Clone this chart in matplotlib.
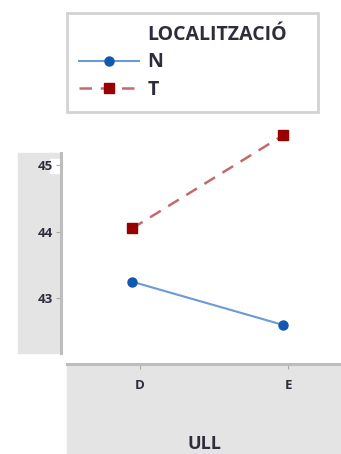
import matplotlib.pyplot as plt
from matplotlib.lines import Line2D
from matplotlib.patches import Rectangle

# dades
ull = ['D', 'E']
loc_n = [43.25, 42.60]
loc_t = [44.05, 45.45]
yticks = [43, 44, 45]

W, H = 341, 454
TXT = '#2d2d3c'
GRIS = '#e4e4e4'
LINIA = '#bdbdbd'
plt.rcParams['font.family'] = ['Open Sans', 'DejaVu Sans']
plt.rcParams['font.weight'] = 'bold'


def fx(x):
    return x / W


def fy(y):
    return 1 - y / H


fig = plt.figure(figsize=(W / 100, H / 100), dpi=100)

# panell gris de l'eix Y i de l'eix X
fig.patches.append(Rectangle((fx(18), fy(353)), fx(61) - fx(18), fy(153) - fy(353),
                             transform=fig.transFigure, color=GRIS, zorder=-2))
fig.patches.append(Rectangle((fx(67), 0), 1 - fx(67), fy(364),
                             transform=fig.transFigure, color=GRIS, zorder=-2))
fig.patches.append(Rectangle((fx(50), fy(173)), fx(61) - fx(50), fy(159) - fy(173),
                             transform=fig.transFigure, color='white', zorder=-1))

# eixos de dades
left, right, top, bottom = 61, 341, 115, 360
ax = fig.add_axes([fx(left), fy(bottom), fx(right) - fx(left), fy(top) - fy(bottom)])
ax.patch.set_alpha(0)
ppu_y, y43 = 66.5, 298.3
ax.set_ylim(43 - (bottom - y43) / ppu_y, 43 + (y43 - top) / ppu_y)
ppu_x, x_d = 151, 132
ax.set_xlim((left - x_d) / ppu_x, (right - x_d) / ppu_x)

xs = range(len(ull))
ln_n, = ax.plot(xs, loc_n, color='#6a9bd4', lw=1.5, marker='o', ms=6.5,
                mfc='#1257b0', mec='#1257b0', clip_on=False, zorder=3)
ln_t, = ax.plot(xs, loc_t, color='#c46a6a', lw=1.8, ls=(0, (5, 3.5)), marker='s', ms=7,
                mfc='#990000', mec='#990000', clip_on=False, zorder=3)

for s in ['top', 'right', 'bottom']:
    ax.spines[s].set_visible(False)
ax.spines['left'].set_color(LINIA)
ax.spines['left'].set_linewidth(2.2)
ax.spines['left'].set_bounds(43 - (353 - y43) / ppu_y, 43 + (y43 - 153) / ppu_y)
ax.set_xticks([])
ax.set_yticks(yticks)
ax.tick_params(axis='y', length=3.5, width=0.8, color='#a8a8a8', pad=2.5,
               labelsize=9.5, labelcolor=TXT)

# eix X (panell inferior)
ax2 = fig.add_axes([fx(67), fy(364), 1 - fx(67), 0.0005])
ax2.patch.set_alpha(0)
ppu_x2, x_d2 = 148, 140
ax2.set_xlim((67 - x_d2) / ppu_x2, (341 - x_d2) / ppu_x2)
for s in ['top', 'right', 'left']:
    ax2.spines[s].set_visible(False)
ax2.spines['bottom'].set_color(LINIA)
ax2.spines['bottom'].set_linewidth(2.2)
ax2.set_yticks([])
ax2.set_xticks(list(xs), labels=ull)
ax2.tick_params(axis='x', length=3.5, width=0.8, color='#a8a8a8', pad=7,
                labelsize=9.5, labelcolor=TXT)
ax2.set_xlabel('ULL', fontsize=13, fontweight='bold', color=TXT, labelpad=31)

# llegenda
buit = Line2D([], [], ls='none')
leg = fig.legend([buit, ln_n, ln_t], ['LOCALITZACIÓ', 'N', 'T'],
                 loc='upper left', bbox_to_anchor=(fx(67), fy(13) - 0.001, fx(318) - fx(67), 0.001),
                 mode='expand', borderaxespad=0, fontsize=14, frameon=True, fancybox=False,
                 handlelength=3.1, handletextpad=0.45, labelspacing=0.4, borderpad=0.6)
leg.get_frame().set_edgecolor('#c8c8c8')
leg.get_frame().set_linewidth(2)
for t in leg.get_texts():
    t.set_color(TXT)

fig.savefig('out.png', dpi=100)
